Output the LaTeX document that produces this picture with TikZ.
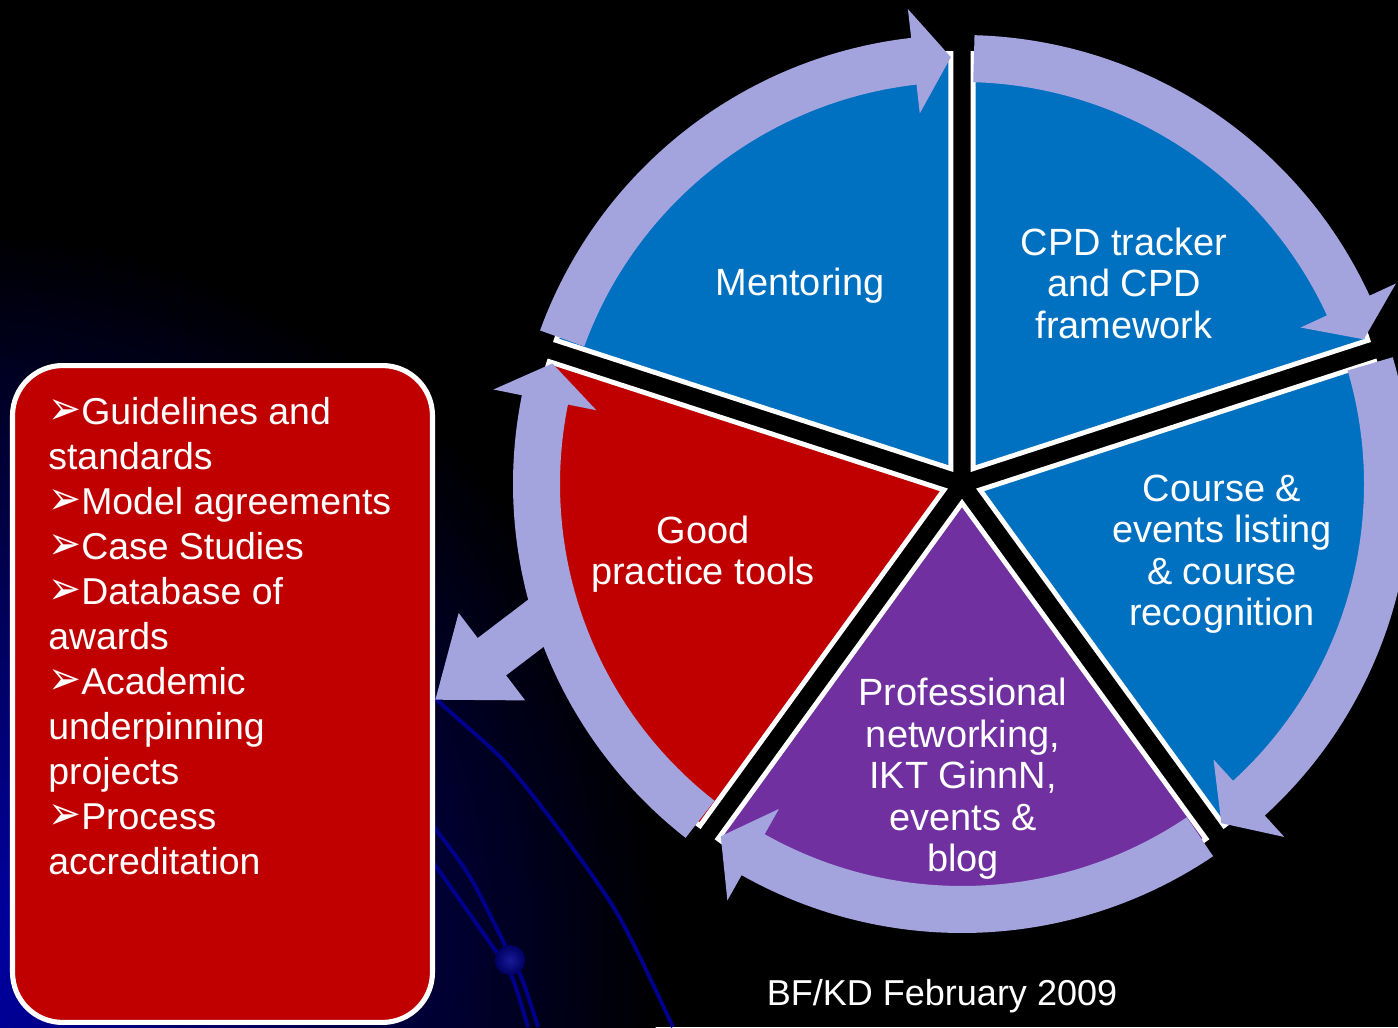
\documentclass[tikz,border=0pt]{standalone}
\usepackage{fontspec}
\usepackage{graphicx}
\setmainfont{Liberation Sans}
\newfontfamily\dingfont{DejaVu Sans}
\usetikzlibrary{arrows.meta,positioning}

\definecolor{ringlav}{RGB}{163,163,222}
\definecolor{pieblue}{RGB}{0,112,192}
\definecolor{piered}{RGB}{192,0,0}
\definecolor{piepurple}{RGB}{112,48,160}
\definecolor{orbitnavy}{RGB}{0,0,140}
\definecolor{glownavy}{RGB}{0,0,170}

\newcommand{\listtick}{{\dingfont\scalebox{1.05}[1.25]{➢}}}

\tikzset{
  slicetext/.style={text=white, align=center, inner sep=0pt, font=\fontsize{21.6}{23.6}\selectfont},
  listtext/.style={text=white, align=left, inner sep=0pt, anchor=north west, font=\fontsize{21.3}{25.6}\selectfont},
  orbit/.style={orbitnavy, line width=2.2pt},
  toolbox/.style={draw=white, line width=2.9pt, fill=piered, rounded corners=1cm, minimum width=8.4cm, minimum height=13.14cm, inner sep=0pt}
}

\begin{document}
\begin{tikzpicture}[x=0.02cm,y=0.02cm]
  \useasboundingbox (0,0) rectangle (1398,1027);
  \fill[black] (0,0) rectangle (1398,1027);
  % glow in the lower left corner
  \begin{scope}
    \clip (0,0) rectangle (1398,1027);
    \shade[inner color=glownavy, outer color=black] (-60,80) circle (720);
  \end{scope}
  % orbit lines
  \draw[orbit] plot[smooth] coordinates {(395,370) (437,327) (503,267) (557,200) (607,130) (633,84) (673,0)};
  \draw[orbit] plot[smooth] coordinates {(420,222) (435,199) (470,150) (505,82) (522,48) (538,0)};
  \draw[orbit] plot[smooth] coordinates {(420,183) (435,162) (495,77) (512,50) (528,0)};
  \shade[inner color=orbitnavy!90!white, outer color=orbitnavy!70!black] (510,67) circle (15);

  % pie and ring, centre of the pie
  \begin{scope}[shift={(962,543)}]
    \foreach \a/\b/\col in {162/90/pieblue, 90/18/pieblue, 18/-54/pieblue, -54/-126/piepurple, 234/162/piered}
      \filldraw[fill=\col, draw=white, line width=2.8pt] ({(\a+\b)/2}:19) -- ++(\a:415) arc[start angle=\a, end angle=\b, radius=415] -- cycle;
    \foreach \s/\t [evaluate=\t as \bb using \t+5] in {160/91.5, 88.4/19.8, 16.4/-52.6, -56/-124.4, 232/163.6}
      \fill[ringlav] (\s:402) arc[start angle=\s, end angle=\bb, radius=402] -- (\bb:373) -- (\t:427)
        -- (\bb:478) -- (\bb:449) arc[start angle=\bb, end angle=\s, radius=449] -- cycle;
    \coordinate (ringout) at (197:425);
  \end{scope}

  % arrow to the box
  \coordinate (boxin) at (435,327);
  \draw[ringlav, line width=26.7pt, -{Triangle[length=40.7pt,width=59.7pt]}] (ringout) -- (boxin);

  \node[toolbox] (tools) at (222.5,333) {};
  \node[listtext] (toollist) at ([xshift=0.76cm, yshift=-0.68cm]tools.north west)
    {\listtick Guidelines and\\standards\\\listtick Model agreements\\\listtick Case Studies\\\listtick Database of\\awards\\\listtick Academic\\underpinning\\projects\\\listtick Process\\accreditation};

  \node[slicetext] (mentoring) at (800,741) {Mentoring};
  \node[slicetext] (cpd) at (1124,744) {CPD tracker\\and CPD\\framework};
  \node[slicetext] (course) at (1222,473) {Course \&\\events listing\\\& course\\recognition};
  \node[slicetext] (networking) at (963,248) {Professional\\networking,\\IKT GinnN,\\events \&\\blog};
  \node[slicetext] (goodpractice) at (703,473) {Good\\practice tools};

  \node[text=white, anchor=base, inner sep=0pt, font=\fontsize{20.5}{24}\selectfont] (stamp) at (942,22) {BF/KD February 2009};
\end{tikzpicture}
\end{document}
